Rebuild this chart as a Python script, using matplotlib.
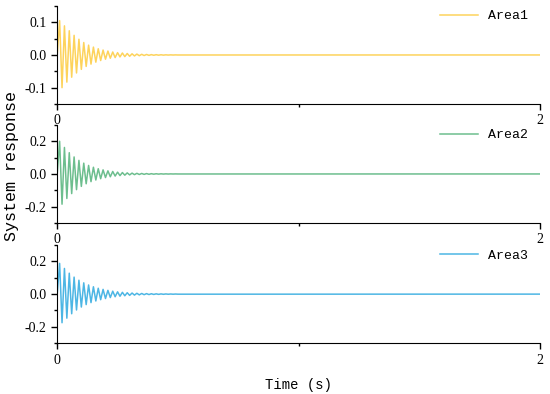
import numpy as np
import matplotlib
matplotlib.use("Agg")
import matplotlib.pyplot as plt
from matplotlib.ticker import MultipleLocator, FormatStrFormatter

# extrema of each response (alternating max / min,
# one every half period of 0.01 s, starting at t = 0.01 s)
area1_max = [0.105, 0.089, 0.074, 0.060, 0.048, 0.038, 0.030, 0.024, 0.019, 0.015,
             0.012, 0.009, 0.007, 0.006, 0.0045, 0.0035, 0.0027, 0.002, 0.0015, 0.001,
             0.0008, 0.0006, 0.0004, 0.0003, 0.0002]
area1_min = [-0.100, -0.083, -0.068, -0.055, -0.044, -0.035, -0.028, -0.022, -0.017, -0.013,
             -0.010, -0.008, -0.006, -0.005, -0.004, -0.003, -0.0023, -0.0017, -0.0012, -0.0009,
             -0.0007, -0.0005, -0.0003, -0.0002, -0.0001]

area2_max = [0.200, 0.162, 0.130, 0.104, 0.083, 0.066, 0.052, 0.041, 0.032, 0.025,
             0.019, 0.015, 0.011, 0.0085, 0.0065, 0.005, 0.0038, 0.0029, 0.0022, 0.0016,
             0.0012, 0.0009, 0.0006, 0.0004, 0.0003]
area2_min = [-0.185, -0.150, -0.120, -0.096, -0.076, -0.060, -0.047, -0.037, -0.029, -0.022,
             -0.017, -0.013, -0.010, -0.0075, -0.0057, -0.0043, -0.0033, -0.0025, -0.0019, -0.0014,
             -0.001, -0.0007, -0.0005, -0.0003, -0.0002]

area3_max = [0.188, 0.157, 0.128, 0.104, 0.085, 0.069, 0.056, 0.045, 0.036, 0.029,
             0.023, 0.018, 0.014, 0.011, 0.0085, 0.0066, 0.0051, 0.004, 0.003, 0.0023,
             0.0017, 0.0013, 0.001, 0.0007, 0.0005]
area3_min = [-0.175, -0.147, -0.120, -0.097, -0.079, -0.064, -0.052, -0.042, -0.034, -0.027,
             -0.021, -0.016, -0.013, -0.010, -0.0077, -0.006, -0.0046, -0.0035, -0.0027, -0.002,
             -0.0015, -0.0011, -0.0008, -0.0006, -0.0004]

labels = ["Area1", "Area2", "Area3"]
colors = ["#FDD35C", "#6DBE8E", "#4DB6E4"]
ylims = [0.15, 0.3, 0.3]
ysteps = [0.1, 0.2, 0.2]
t_end = 2.0
half_period = 0.01


def build_series(maxs, mins):
    vals = [0.0]
    for a, b in zip(maxs, mins):
        vals += [a, b]
    vals.append(0.0)
    t = [0.0] + [half_period * (k + 1) for k in range(len(vals) - 2)] + [t_end]
    return np.array(t), np.array(vals)


series = [build_series(area1_max, area1_min),
          build_series(area2_max, area2_min),
          build_series(area3_max, area3_min)]

serif = ["Liberation Serif", "DejaVu Serif"]
mono = ["Liberation Mono", "DejaVu Sans Mono"]

fig = plt.figure(figsize=(5.5, 3.94), dpi=100)
boxes = [(0.104, 0.736, 0.878, 0.249),
         (0.104, 0.434, 0.878, 0.249),
         (0.104, 0.129, 0.878, 0.249)]

for i, (t, y) in enumerate(series):
    ax = fig.add_axes(boxes[i])
    ax.plot(t, y, color=colors[i], lw=1.1, label=labels[i])
    ax.set_xlim(0, t_end)
    ax.set_ylim(-ylims[i], ylims[i])
    ax.spines["top"].set_visible(False)
    ax.spines["right"].set_visible(False)
    ax.xaxis.set_major_locator(MultipleLocator(2))
    ax.xaxis.set_minor_locator(MultipleLocator(1))
    ax.yaxis.set_major_locator(MultipleLocator(ysteps[i]))
    ax.yaxis.set_minor_locator(MultipleLocator(ysteps[i] / 2))
    ax.tick_params(which="major", direction="out", length=4, width=1, labelsize=10)
    ax.tick_params(which="minor", direction="out", length=2, width=1)
    ax.yaxis.set_major_formatter(FormatStrFormatter("%.1f"))
    for lab in ax.get_xticklabels() + ax.get_yticklabels():
        lab.set_family(serif)
    ax.legend(loc="upper right", frameon=False, prop={"family": mono, "size": 9.5},
              handlelength=2.9, handletextpad=0.7, borderaxespad=0.0,
              bbox_to_anchor=(0.985, 1.01))
    if i == 1:
        ax.set_ylabel("System response", family=mono, fontsize=12)
        ax.yaxis.set_label_coords(-0.079, 0.58)
    if i == 2:
        ax.set_xlabel("Time (s)", family=mono, fontsize=10, labelpad=8)

fig.savefig("out.png", dpi=100)
